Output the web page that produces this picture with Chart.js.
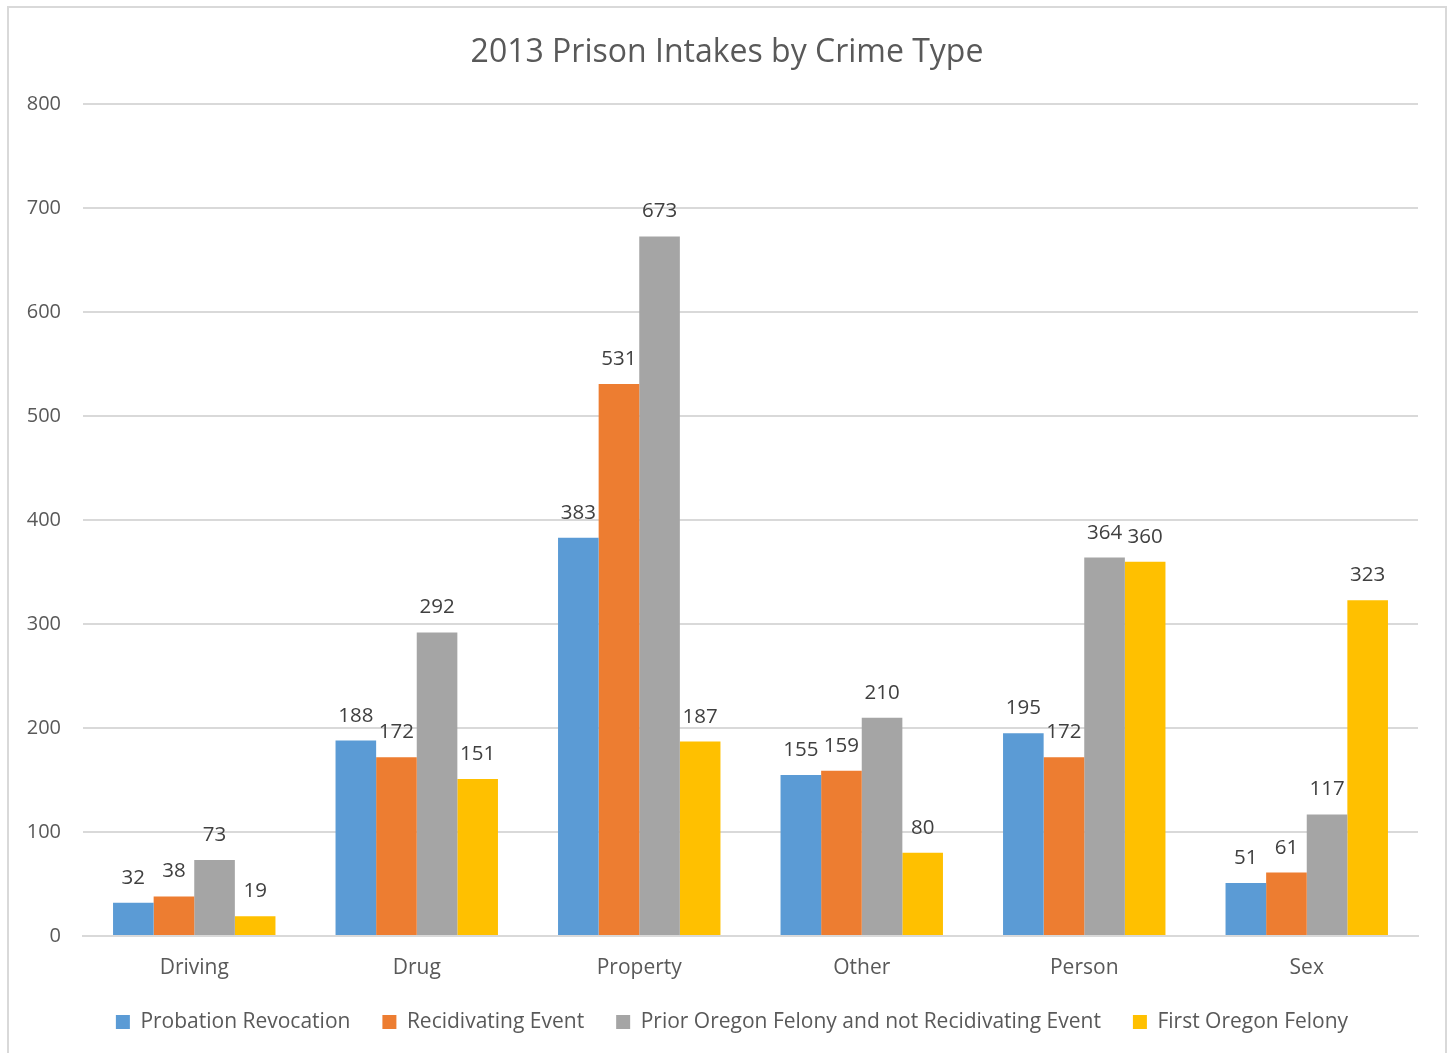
<!DOCTYPE html>
<html>
<head>
<meta charset="utf-8">
<script src="https://cdn.jsdelivr.net/npm/chart.js@4.4.1/dist/chart.umd.min.js"></script>
<style>
html,body{margin:0;padding:0;background:#fff;}
#wrap{position:absolute;left:0;top:0;width:1453px;height:1053px;}
</style>
</head>
<body>
<div id="wrap"><canvas id="c" width="1453" height="1053"></canvas></div>
<script>
const categories = ["Driving", "Drug", "Property", "Other", "Person", "Sex"];
const probationRevocation = [32, 188, 383, 155, 195, 51];
const recidivatingEvent = [38, 172, 531, 159, 172, 61];
const priorOregonFelony = [73, 292, 673, 210, 364, 117];
const firstOregonFelony = [19, 151, 187, 80, 360, 323];
const seriesNames = ["Probation Revocation", "Recidivating Event", "Prior Oregon Felony and not Recidivating Event", "First Oregon Felony"];
const yTicks = [0, 100, 200, 300, 400, 500, 600, 700, 800];

const FONT = "'Open Sans', sans-serif";
const colors = ["#5B9BD5", "#ED7D31", "#A5A5A5", "#FFC000"];
const seriesData = [probationRevocation, recidivatingEvent, priorOregonFelony, firstOregonFelony];

const LEGEND_PAD = 32;
const LEGEND_FONT = 21;

const borderPlugin = {
  id: 'frame',
  beforeDraw(chart) {
    const ctx = chart.ctx;
    ctx.save();
    ctx.fillStyle = '#fff';
    ctx.fillRect(0, 0, chart.width, chart.height);
    ctx.strokeStyle = '#d9d9d9';
    ctx.lineWidth = 2;
    ctx.beginPath();
    ctx.moveTo(8, 1060);
    ctx.lineTo(8, 7);
    ctx.lineTo(1446, 7);
    ctx.lineTo(1446, 1060);
    ctx.stroke();
    ctx.restore();
  }
};

const shiftPlugin = {
  id: 'shiftBlocks',
  afterLayout(chart) {
    const t = chart.titleBlock;
    if (t) { t.left += 18; t.right += 18; }
    const l = chart.legend;
    if (l) {
      l.left += 23; l.right += 23;
      const center = l.top + LEGEND_PAD + LEGEND_FONT / 2;
      const dy = 1022 - center;
      l.top += dy; l.bottom += dy;
    }
  }
};

const labelPlugin = {
  id: 'valueLabels',
  afterDatasetsDraw(chart) {
    const ctx = chart.ctx;
    ctx.save();
    ctx.font = "20.5px " + FONT;
    ctx.fillStyle = '#404040';
    ctx.textAlign = 'center';
    ctx.textBaseline = 'alphabetic';
    chart.data.datasets.forEach((ds, i) => {
      const meta = chart.getDatasetMeta(i);
      meta.data.forEach((bar, j) => {
        ctx.fillText(String(ds.data[j]), bar.x, bar.y - 19);
      });
    });
    ctx.restore();
  }
};

new Chart(document.getElementById('c'), {
  type: 'bar',
  data: {
    labels: categories,
    datasets: seriesNames.map((n, i) => ({
      label: n,
      data: seriesData[i],
      backgroundColor: colors[i],
      borderWidth: 0,
      categoryPercentage: 0.73,
      barPercentage: 1.0
    }))
  },
  options: {
    responsive: false,
    animation: false,
    devicePixelRatio: 1,
    layout: { padding: { left: 0, right: 35, top: 11, bottom: 0 } },
    plugins: {
      title: {
        display: true,
        text: '2013 Prison Intakes by Crime Type',
        color: '#595959',
        font: { family: FONT, size: 32, weight: 'normal' },
        padding: { top: 23, bottom: 32 }
      },
      legend: {
        position: 'bottom',
        labels: {
          color: '#595959',
          font: { family: FONT, size: LEGEND_FONT },
          boxWidth: 14,
          boxHeight: 14,
          padding: LEGEND_PAD
        }
      },
      tooltip: { enabled: false }
    },
    scales: {
      x: {
        grid: { display: false, drawTicks: false },
        border: { display: true, color: '#d9d9d9', width: 2 },
        ticks: { color: '#595959', font: { family: FONT, size: 21 }, padding: 19 },
        afterFit(scale) { scale.height = 54; }
      },
      y: {
        min: 0,
        max: 800,
        afterBuildTicks(scale) { scale.ticks = yTicks.map(v => ({ value: v })); },
        afterFit(scale) { scale.width = 83; },
        grid: { color: '#d9d9d9', lineWidth: 2, drawTicks: false },
        border: { display: false },
        ticks: { color: '#595959', font: { family: FONT, size: 20 }, padding: 22 }
      }
    }
  },
  plugins: [borderPlugin, shiftPlugin, labelPlugin]
});
</script>
</body>
</html>
